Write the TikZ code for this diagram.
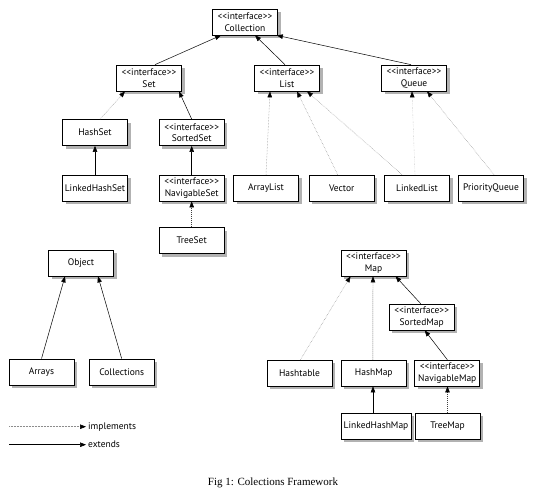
\documentclass[tikz,border=0pt]{standalone}
\usepackage{fontspec}
\setmainfont{Liberation Serif}
\newfontfamily\boxfont{PT Sans}
\usetikzlibrary{shadows,arrows.meta}
\newcommand\intf{<\kern0pt<interface>\kern0pt>}
\begin{document}
\begin{tikzpicture}[x=1pt,y=-1pt,
  cls/.style={draw, line width=0.7pt, fill=white, minimum width=65pt, minimum height=26pt,
    inner sep=0.5pt, align=center, font=\boxfont\fontsize{9.5}{11.5}\selectfont,
    drop shadow={shadow xshift=3pt, shadow yshift=-3pt, fill=black!30, opacity=1}},
  tip/.style={-{Triangle[length=6pt,width=4.5pt,color=black]}},
  ext/.style={tip, line width=0.5pt},
  impl/.style={tip, line width=0.5pt, densely dotted, draw=black!45},
  impll/.style={tip, line width=0.4pt, densely dotted, draw=black!30},
  implk/.style={tip, line width=0.45pt, dash pattern=on 1pt off 1pt, draw=black!75},
  lbl/.style={font=\boxfont\fontsize{9.5}{11.5}\selectfont, inner sep=0pt, anchor=west}
]
\useasboundingbox (0,0) rectangle (548,496);

% Collection hierarchy
\node[cls] (coll) at (245,22) {\intf\\Collection};
\node[cls] (set) at (149,78) {\intf\\Set};
\node[cls] (list) at (287,78) {\intf\\List};
\node[cls] (queue) at (414,78) {\intf\\Queue};
\node[cls] (hashset) at (95,132.5) {HashSet};
\node[cls] (sortedset) at (191.7,132.5) {\intf\\SortedSet};
\node[cls] (lhs) at (95,188) {LinkedHashSet};
\node[cls] (navset) at (191.7,188) {\intf\\NavigableSet};
\node[cls] (treeset) at (191.7,240.5) {TreeSet};
\node[cls] (arraylist) at (266,188) {ArrayList};
\node[cls] (vector) at (341.7,188) {Vector};
\node[cls] (linkedlist) at (417,188) {LinkedList};
\node[cls] (pq) at (491,188) {PriorityQueue};

% Object
\node[cls] (object) at (81,263) {Object};
\node[cls] (arrays) at (41.5,372) {Arrays};
\node[cls] (collections) at (121.7,372) {Collections};

% Map hierarchy
\node[cls] (map) at (373.5,263) {\intf\\Map};
\node[cls] (sortedmap) at (421.7,317) {\intf\\SortedMap};
\node[cls] (hashtable) at (299.5,373) {Hashtable};
\node[cls] (hashmap) at (373.8,373) {HashMap};
\node[cls] (navmap) at (447.3,373) {\intf\\NavigableMap};
\node[cls, minimum width=70pt] (lhm) at (376,426) {LinkedHashMap};
\node[cls] (treemap) at (447.5,426) {TreeMap};

% edges
\draw[ext] ([xshift=6pt]set.north) -- ([xshift=-24pt]coll.south);
\draw[ext] ([xshift=-2pt]list.north) -- ([xshift=10pt]coll.south);
\draw[ext] ([xshift=-3pt]queue.north) -- ([xshift=-1pt]coll.south east);
\draw[impl] ([xshift=5pt]hashset.north) -- ([xshift=-24pt]set.south);
\draw[ext] (sortedset.north) -- ([xshift=30pt]set.south);
\draw[ext] (lhs) -- (hashset);
\draw[ext] (navset) -- (sortedset);
\draw[implk] (treeset) -- (navset);
\draw[impl] (arraylist.north) -- ([xshift=-17pt]list.south);
\draw[impl] ([xshift=-4pt]vector.north) -- ([xshift=10pt]list.south);
\draw[impl] ([xshift=-15pt]linkedlist.north) -- ([xshift=20pt]list.south);
\draw[impll] ([xshift=-2pt]linkedlist.north) -- ([xshift=-2pt]queue.south);
\draw[impl] ([xshift=3pt]pq.north) -- ([xshift=13pt]queue.south);

\draw[ext] (arrays.north) -- ([xshift=-16pt]object.south);
\draw[ext] (collections.north) -- ([xshift=17pt]object.south);

\draw[impl] ([xshift=1pt]hashtable.north) -- ([xshift=-23pt]map.south);
\draw[implk] ([xshift=-1pt]hashmap.north) -- ([xshift=-0.5pt]map.south);
\draw[ext] ([xshift=-1pt]sortedmap.north) -- ([xshift=22pt]map.south);
\draw[ext] (navmap.north) -- ([xshift=3pt]sortedmap.south);
\draw[ext] ([xshift=-3pt]lhm.north) -- ([xshift=-0.8pt]hashmap.south);
\draw[implk] (treemap.north) -- ([xshift=0.2pt]navmap.south);

% legend
\coordinate (l1) at (9,426.7);
\coordinate (l2) at (9,444.7);
\node[lbl] (limpl) at (88,426.7) {implements};
\node[lbl] (lext) at (88,444.7) {extends};
\draw[impl] (l1) -- ([xshift=-2pt]limpl.west);
\draw[ext] (l2) -- ([xshift=-2pt]lext.west);

% caption
\node[font=\fontsize{11}{13}\selectfont] (cap) at (273,482.7) {Fig 1: Colections Framework};
\end{tikzpicture}
\end{document}
